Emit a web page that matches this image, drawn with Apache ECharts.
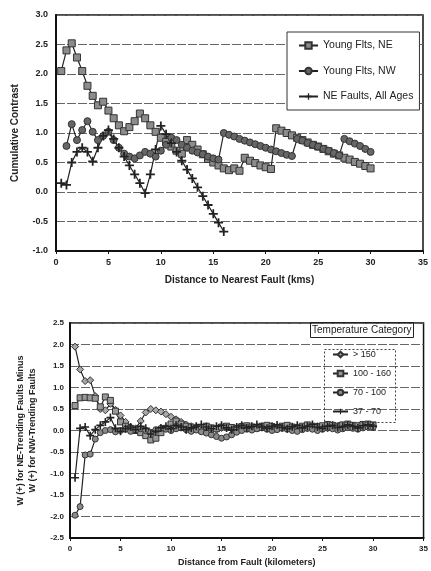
<!DOCTYPE html>
<html>
<head>
<meta charset="utf-8">
<script src="https://cdn.jsdelivr.net/npm/echarts@6/dist/echarts.min.js"></script>
<style>
  html, body { margin: 0; padding: 0; background: #fff; }
  #chart { width: 431px; height: 571px; }
</style>
</head>
<body>
<div id="chart"></div>
<script>
/* 两张图：累计对比 / 温度分类 W(+) 差 */
var FONT = '"Liberation Sans", Arial, sans-serif';

// top chart: distance (km)
var topDist = [0.5, 1, 1.5, 2, 2.5, 3, 3.5, 4, 4.5, 5, 5.5, 6, 6.5, 7, 7.5, 8, 8.5, 9, 9.5, 10,
  10.5, 11, 11.5, 12, 12.5, 13, 13.5, 14, 14.5, 15, 15.5, 16, 16.5, 17, 17.5, 18, 18.5, 19, 19.5, 20,
  20.5, 21, 21.5, 22, 22.5, 23, 23.5, 24, 24.5, 25, 25.5, 26, 26.5, 27, 27.5, 28, 28.5, 29, 29.5, 30];
var youngNE = [2.05, 2.4, 2.52, 2.28, 2.05, 1.8, 1.63, 1.47, 1.53, 1.38, 1.25, 1.13, 1.03, 1.1, 1.2, 1.33, 1.25, 1.13, 1.02, 0.92,
  0.85, 0.77, 0.7, 0.65, 0.88, 0.8, 0.72, 0.64, 0.56, 0.5, 0.45, 0.4, 0.37, 0.4, 0.36, 0.58, 0.53, 0.49, 0.45, 0.42,
  0.39, 1.08, 1.04, 1.0, 0.96, 0.92, 0.88, 0.84, 0.8, 0.77, 0.73, 0.69, 0.65, 0.62, 0.58, 0.55, 0.51, 0.48, 0.44, 0.4];
// NW starts at 1 km
var youngNW = [null, 0.78, 1.15, 0.88, 1.05, 1.2, 1.02, 0.88, 0.95, 1.02, 0.88, 0.75, 0.65, 0.6, 0.57, 0.62, 0.68, 0.65, 0.6, 0.7,
  0.8, 0.92, 0.88, 0.8, 0.75, 0.7, 0.67, 0.64, 0.6, 0.57, 0.55, 1.0, 0.97, 0.94, 0.9, 0.87, 0.84, 0.81, 0.78, 0.75,
  0.72, 0.69, 0.66, 0.63, 0.61, 0.9, 0.87, 0.83, 0.8, 0.77, 0.73, 0.7, 0.66, 0.62, 0.9, 0.86, 0.82, 0.78, 0.73, 0.68];
// NE faults only to 16 km
var neAllAges = [0.15, 0.12, 0.5, 0.68, 0.75, 0.68, 0.52, 0.75, 0.95, 1.05, 0.9, 0.75, 0.6, 0.45, 0.3, 0.15, -0.02, 0.3, 0.72, 1.12,
  0.98, 0.83, 0.68, 0.53, 0.38, 0.23, 0.08, -0.07, -0.22, -0.37, -0.52, -0.67];

// bottom chart
var botDist = topDist;
var t150 = [1.95, 1.42, 1.15, 1.17, 0.8, 0.5, 0.47, 0.62, 0.48, 0.35, 0.2, 0.08, 0.05, 0.22, 0.42, 0.5, 0.47, 0.44, 0.38, 0.32,
  0.26, 0.2, 0.14, 0.1, 0.08, 0.06, 0.1, 0.05, 0.02, 0.06, 0.08, 0.04, 0.06, 0.1, 0.07, 0.05, 0.08, 0.1, 0.06, 0.04,
  0.07, 0.09, 0.05, 0.03, 0.06, 0.08, 0.05, 0.07, 0.1, 0.08, 0.05, 0.07, 0.09, 0.06, 0.08, 0.1, 0.07, 0.09, 0.11, 0.1];
var t100 = [0.58, 0.76, 0.77, 0.76, 0.75, 0.55, 0.78, 0.7, 0.45, 0.2, 0.1, 0.05, 0.0, -0.05, -0.12, -0.22, -0.18, -0.05, 0.05, 0.15,
  0.22, 0.15, 0.1, 0.08, 0.05, 0.07, 0.1, 0.06, 0.04, 0.08, 0.1, 0.07, 0.05, 0.09, 0.11, 0.08, 0.06, 0.1, 0.12, 0.09,
  0.07, 0.1, 0.12, 0.08, 0.06, 0.1, 0.13, 0.1, 0.08, 0.11, 0.14, 0.12, 0.1, 0.13, 0.15, 0.12, 0.11, 0.14, 0.15, 0.13];
var t70 = [-1.97, -1.77, -0.57, -0.55, -0.2, -0.05, 0.0, 0.02, -0.03, 0.0, 0.03, -0.02, 0.01, 0.04, 0.0, -0.04, 0.02, 0.05, 0.03, 0.0,
  0.04, 0.06, 0.02, -0.02, 0.01, -0.03, -0.06, -0.1, -0.14, -0.18, -0.15, -0.1, -0.04, 0.0, 0.03, 0.01, 0.04, 0.06, 0.03, 0.0,
  0.02, 0.05, 0.03, 0.0, -0.02, 0.02, 0.05, 0.03, 0.0, 0.03, 0.06, 0.04, 0.01, 0.04, 0.07, 0.05, 0.03, 0.06, 0.08, 0.07];
var t37 = [-1.1, 0.05, 0.08, -0.12, 0.02, 0.12, 0.2, 0.3, 0.05, -0.02, 0.04, 0.08, 0.02, 0.1, 0.05, -0.08, -0.02, 0.06, 0.1, 0.04,
  0.12, 0.08, 0.02, 0.06, 0.1, 0.14, 0.08, 0.04, 0.1, 0.12, 0.06, 0.02, 0.08, 0.12, 0.06, 0.1, 0.14, 0.08, 0.05, 0.1,
  0.13, 0.07, 0.04, 0.09, 0.12, 0.06, 0.1, 0.14, 0.08, 0.05, 0.1, 0.12, 0.07, 0.09, 0.13, 0.1, 0.06, 0.11, 0.13, 0.1];

var PLUS = 'path://M4,0 H6 V4 H10 V6 H6 V10 H4 V6 H0 V4 H4 Z';

function pairs(xs, ys) {
  var out = [];
  for (var i = 0; i < ys.length; i++) {
    if (ys[i] !== null) out.push([xs[i], ys[i]]);
  }
  return out;
}

function xAxisOf(idx, name, fs, gap) {
  return {
    type: 'value', gridIndex: idx, min: 0, max: 35, interval: 5,
    name: name, nameLocation: 'middle', nameGap: gap,
    nameTextStyle: { fontFamily: FONT, fontWeight: 'bold', fontSize: fs, color: '#222' },
    axisLine: { onZero: false, lineStyle: { color: '#111', width: 2 } },
    axisTick: { show: true, length: 3, lineStyle: { color: '#111' } },
    axisLabel: { fontFamily: FONT, fontWeight: 'bold', fontSize: fs - 1, color: '#222', margin: 7 },
    splitLine: { show: false }
  };
}

function yAxisOf(idx, min, max, name, fs, gap, lblMargin) {
  return {
    type: 'value', gridIndex: idx, min: min, max: max, interval: 0.5,
    name: name, nameLocation: 'middle', nameGap: gap,
    nameTextStyle: { fontFamily: FONT, fontWeight: 'bold', fontSize: fs, color: '#222', lineHeight: fs + 3 },
    axisLine: { show: true, onZero: false, lineStyle: { color: '#111', width: 2 } },
    axisTick: { show: false },
    axisLabel: {
      fontFamily: FONT, fontWeight: 'bold', fontSize: fs - 1, color: '#222', margin: lblMargin,
      formatter: function(v) { return v.toFixed(1); }
    },
    splitLine: { show: true, lineStyle: { color: '#666', width: 1, type: [9, 2] } }
  };
}

function lineSeries(name, idx, data, symbol, size, fill) {
  return {
    name: name, type: 'line', xAxisIndex: idx, yAxisIndex: idx,
    data: data, symbol: symbol, symbolSize: size, showAllSymbol: true,
    lineStyle: { color: '#222', width: 1.2 },
    itemStyle: { color: fill, borderColor: '#333', borderWidth: symbol === PLUS ? 0 : 1 },
    emphasis: { disabled: true },
    animation: false
  };
}

var chart = echarts.init(document.getElementById('chart'));
chart.setOption({
  backgroundColor: '#fff',
  animation: false,
  title: {
    text: 'Temperature Category', left: 310, top: 322,
    borderColor: '#222', borderWidth: 1, padding: [3, 2, 3, 2],
    textStyle: { fontFamily: FONT, fontSize: 10, fontWeight: 'normal', color: '#222' }
  },
  grid: [
    { left: 56, top: 15, width: 371, height: 236, show: true, borderColor: '#111', borderWidth: 1.5, backgroundColor: 'transparent' },
    { left: 70, top: 323, width: 358, height: 215, show: true, borderColor: '#111', borderWidth: 1.5, backgroundColor: 'transparent' }
  ],
  xAxis: [
    xAxisOf(0, 'Distance to Nearest Fault (kms)', 10, 24),
    xAxisOf(1, 'Distance from Fault (kilometers)', 9, 20)
  ],
  yAxis: [
    yAxisOf(0, -1, 3, 'Cumulative Contrast', 10, 34, 8),
    yAxisOf(1, -2.5, 2.5, 'W (+) for NE-Trending Faults Minus\nW (+) for NW-Trending Faults', 9, 31, 6)
  ],
  legend: [
    {
      orient: 'vertical', left: 287, top: 32,
      backgroundColor: '#fff', borderColor: '#333', borderWidth: 1,
      padding: [8, 6, 8, 11], itemGap: 14.5, itemWidth: 19, itemHeight: 8, itemTextGap: 3,
      textStyle: { fontFamily: FONT, fontSize: 10.5, color: '#222' },
      data: ['Young Flts, NE', 'Young Flts, NW', 'NE Faults, All Ages']
    },
    {
      orient: 'vertical', left: 322, top: 347,
      padding: [3, 6, 3, 10], itemGap: 10, itemWidth: 15, itemHeight: 7, itemTextGap: 2,
      textStyle: { fontFamily: FONT, fontSize: 9, color: '#222' },
      data: ['> 150', '100 - 160', '70 - 100', '37 - 70']
    }
  ],
  graphic: [
    {
      type: 'rect', left: 322, top: 347, z: 100, silent: true,
      shape: { width: 71, height: 73 },
      style: { fill: 'none', stroke: '#444', lineWidth: 1, lineDash: [2, 2] }
    }
  ],
  series: [
    lineSeries('Young Flts, NE', 0, pairs(topDist, youngNE), 'rect', 7, '#8c8c8c'),
    lineSeries('Young Flts, NW', 0, pairs(topDist, youngNW), 'circle', 7, '#666'),
    lineSeries('NE Faults, All Ages', 0, pairs(topDist, neAllAges), PLUS, 9, '#222'),
    lineSeries('> 150', 1, pairs(botDist, t150), 'diamond', 7, '#a8a8a8'),
    lineSeries('100 - 160', 1, pairs(botDist, t100), 'rect', 6, '#999'),
    lineSeries('70 - 100', 1, pairs(botDist, t70), 'circle', 6, '#8a8a8a'),
    lineSeries('37 - 70', 1, pairs(botDist, t37), PLUS, 8, '#222')
  ]
});
</script>
</body>
</html>
